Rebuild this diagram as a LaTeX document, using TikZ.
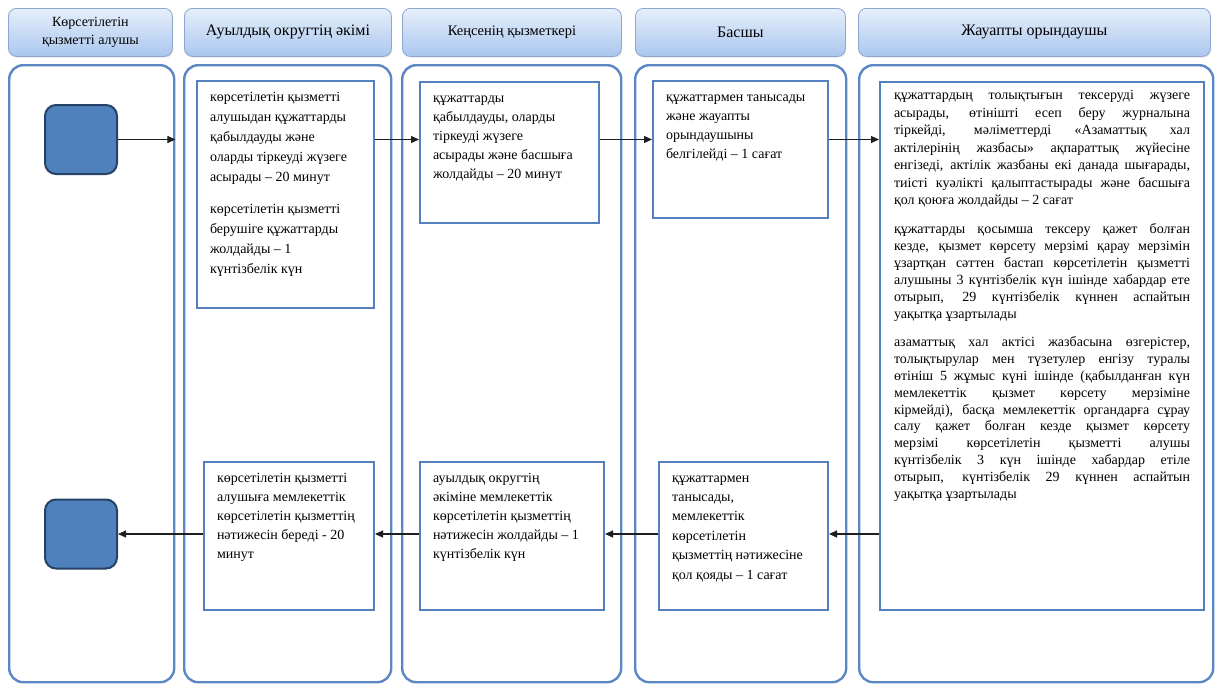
\documentclass[tikz,border=0pt]{standalone}
\usepackage{fontspec}
\setmainfont{Liberation Serif}
\usetikzlibrary{arrows.meta,shadows}
\definecolor{lanec}{RGB}{91,135,197}
\definecolor{boxc}{RGB}{84,128,192}
\definecolor{startf}{RGB}{79,129,189}
\definecolor{startd}{RGB}{38,66,102}
\definecolor{headt}{RGB}{230,239,251}
\definecolor{headb}{RGB}{170,198,238}
\definecolor{headd}{RGB}{140,166,206}
\definecolor{arrc}{RGB}{30,30,30}
\newcommand\jln[1]{\makebox[\linewidth][s]{#1}\par}
\newcommand\tstrut{\rule{0pt}{12pt}}
\begin{document}
\begin{tikzpicture}[x=1pt,y=-1pt,
 lane/.style={draw=lanec, line width=2.4pt, rounded corners=14pt, anchor=north west, inner sep=0pt},
 head/.style={draw=headd, line width=0.8pt, rounded corners=8pt, top color=headt, bottom color=headb, anchor=north west, inner sep=2pt, align=center, minimum height=48pt, drop shadow={opacity=0.2,shadow xshift=0.8pt,shadow yshift=-1.2pt}},
 stepbox/.style={draw=boxc, line width=2pt, fill=white, anchor=north west, inner xsep=13pt, inner ysep=8pt, font=\fontsize{14}{19.5}\selectfont},
 startnode/.style={draw=startd, fill=startf, line width=2pt, rounded corners=11pt, minimum width=72pt, minimum height=69pt, inner sep=0pt},
 arr/.style={draw=arrc, line width=1.1pt, -{Triangle[length=8pt,width=7pt]}}
]
\fill[white] (0,0) rectangle (1217,683);
\useasboundingbox (0,0) rectangle (1217,683);

% headers
\node[head, minimum width=164pt, font=\fontsize{14}{18}\selectfont] (h1) at (8,8) {Көрсетілетін\\қызметті алушы};
\node[head, minimum width=207pt, font=\fontsize{16}{18}\selectfont] (h2) at (184,8) {Ауылдық округтің әкімі};
\node[head, minimum width=219pt, font=\fontsize{14.5}{17}\selectfont] (h3) at (402,8) {Кеңсенің қызметкері};
\node[head, minimum width=210pt, font=\fontsize{16}{18}\selectfont] (h4) at (635,8) {Басшы};
\node[head, minimum width=352pt, font=\fontsize{16}{18}\selectfont] (h5) at (858,8) {Жауапты орындаушы};

% lanes
\node[lane, minimum width=165pt, minimum height=617pt] (l1) at (8,64) {};
\node[lane, minimum width=207pt, minimum height=617pt] (l2) at (183,64) {};
\node[lane, minimum width=219pt, minimum height=617pt] (l3) at (401,64) {};
\node[lane, minimum width=211pt, minimum height=617pt] (l4) at (634,64) {};
\node[lane, minimum width=354pt, minimum height=617pt] (l5) at (858,64) {};

% start / end nodes
\node[startnode] (s1) at (81,139.5) {};
\node[startnode] (s2) at (81,534) {};

% boxes
\node[stepbox, font=\fontsize{14}{20}\selectfont] (b2) at (196,80) {\parbox[t][211pt][t]{151pt}{\raggedright
\tstrut көрсетілетін қызметті\\ алушыдан құжаттарды\\ қабылдауды және\\ оларды тіркеуді жүзеге\\ асырады – 20 минут\par
\vspace{12pt}
көрсетілетін қызметті\\ берушіге құжаттарды\\ жолдайды – 1\\ күнтізбелік күн\par}};

\node[stepbox, font=\fontsize{14}{19.2}\selectfont] (b3) at (419,81) {\parbox[t][125pt][t]{153pt}{\raggedright
\tstrut құжаттарды\\ қабылдауды, оларды\\ тіркеуді жүзеге\\ асырады және басшыға\\ жолдайды – 20 минут\par}};

\node[stepbox, font=\fontsize{14}{19.2}\selectfont] (b4) at (652,80) {\parbox[t][121pt][t]{149pt}{\raggedright
\tstrut құжаттармен танысады\\ және жауапты\\ орындаушыны\\ белгілейді – 1 сағат\par}};

\node[stepbox, inner xsep=14pt] (b5) at (879,81) {\parbox[t][512pt][t]{296pt}{\fontsize{14}{17.5}\selectfont
\jln{\rule{0pt}{9.5pt}құжаттардың толықтығын тексеруді жүзеге}
\jln{асырады, өтінішті есеп беру журналына}
\jln{тіркейді, мәліметтерді «Азаматтық хал}
\jln{актілерінің жазбасы» ақпараттық жүйесіне}
\jln{енгізеді, актілік жазбаны екі данада шығарады,}
\jln{тиісті куәлікті қалыптастырады және басшыға}
қол қоюға жолдайды – 2 сағат\par
\vspace{11.5pt}\fontsize{14}{17}\selectfont
\jln{құжаттарды қосымша тексеру қажет болған}
\jln{кезде, қызмет көрсету мерзімі қарау мерзімін}
\jln{ұзартқан сәттен бастап көрсетілетін қызметті}
\jln{алушыны 3 күнтізбелік күн ішінде хабардар ете}
\jln{отырып, 29 күнтізбелік күннен аспайтын}
уақытқа ұзартылады\par
\vspace{12pt}\fontsize{14}{16.8}\selectfont
\jln{азаматтық хал актісі жазбасына өзгерістер,}
\jln{толықтырулар мен түзетулер енгізу туралы}
\jln{өтініш 5 жұмыс күні ішінде (қабылданған күн}
\jln{мемлекеттік қызмет көрсету мерзіміне}
\jln{кірмейді), басқа мемлекеттік органдарға сұрау}
\jln{салу қажет болған кезде қызмет көрсету}
\jln{мерзімі көрсетілетін қызметті алушы}
\jln{күнтізбелік 3 күн ішінде хабардар етіле}
\jln{отырып, күнтізбелік 29 күннен аспайтын}
уақытқа ұзартылады\par}};

\node[stepbox, font=\fontsize{14}{19.2}\selectfont] (b2b) at (203,461) {\parbox[t][132pt][t]{144pt}{\raggedright
\tstrut көрсетілетін қызметті\\ алушыға мемлекеттік\\ көрсетілетін қызметтің\\ нәтижесін береді - 20\\ минут\par}};

\node[stepbox, font=\fontsize{14}{19.2}\selectfont] (b3b) at (419,461) {\parbox[t][132pt][t]{158pt}{\raggedright
\tstrut ауылдық округтің\\ әкіміне мемлекеттік\\ көрсетілетін қызметтің\\ нәтижесін жолдайды – 1\\ күнтізбелік күн\par}};

\node[stepbox, font=\fontsize{14}{19.4}\selectfont] (b4b) at (658,461) {\parbox[t][132pt][t]{143pt}{\raggedright
\tstrut құжаттармен\\ танысады,\\ мемлекеттік\\ көрсетілетін\\ қызметтің нәтижесіне\\ қол қояды – 1 сағат\par}};

% connectors
\draw[arr] (s1.east) -- (l1.east |- s1.east);
\draw[arr] (b2.east |- s1.east) -- (b3.west |- s1.east);
\draw[arr] (b3.east |- s1.east) -- (b4.west |- s1.east);
\draw[arr] (b4.east |- s1.east) -- (b5.west |- s1.east);
\draw[arr] (b5.west |- s2.east) -- (b4b.east |- s2.east);
\draw[arr] (b4b.west |- s2.east) -- (b3b.east |- s2.east);
\draw[arr] (b3b.west |- s2.east) -- (b2b.east |- s2.east);
\draw[arr] (b2b.west |- s2.east) -- (s2.east);
\end{tikzpicture}
\end{document}
